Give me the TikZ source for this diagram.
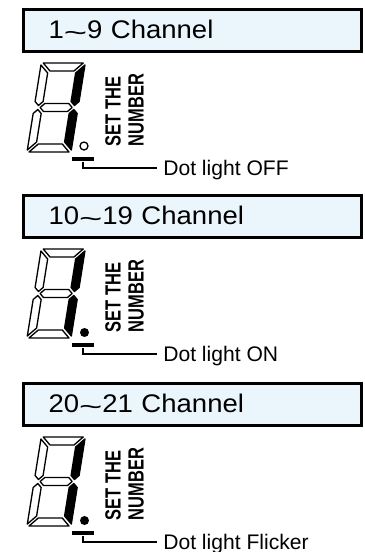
\documentclass[tikz,border=0pt]{standalone}
\usepackage{fontspec}
\setmainfont{Liberation Sans}
\newfontfamily\widefont[FakeStretch=1.08]{Liberation Sans}
\newfontfamily\condfont[FakeStretch=0.75]{Liberation Sans}
\usepackage{tikz}
\usetikzlibrary{positioning}
\definecolor{chanblue}{RGB}{234,245,252}
\newcommand{\wave}{\raisebox{-1.5pt}{\scalebox{1.45}[1]{\textasciitilde}}}
\tikzstyle{titlebox} = [rectangle, draw=black, line width=1.3pt, fill=chanblue, minimum width=6.76cm, minimum height=0.84cm, text width=5.76cm, inner xsep=0.5cm, inner ysep=0pt, align=left, font=\widefont\fontsize{14.5}{17}\selectfont]
\tikzstyle{segoff} = [draw=black, line width=0.75pt, fill=white, line join=round]
\tikzstyle{segon} = [draw=black, line width=0.75pt, fill=black, line join=round]
\tikzstyle{dotoff} = [circle, draw=black, line width=0.75pt, fill=white, minimum size=0.16cm, inner sep=0pt]
\tikzstyle{doton} = [circle, fill=black, minimum size=0.18cm, inner sep=0pt]
\tikzstyle{bar} = [rectangle, fill=black, minimum width=0.44cm, minimum height=0.09cm, inner sep=0pt]
\tikzstyle{settext} = [rotate=90, anchor=north west, inner sep=0pt, align=left, font=\condfont\bfseries\fontsize{12.5}{13}\selectfont]
\tikzstyle{dotlabel} = [anchor=west, inner xsep=0.12cm, inner ysep=0pt, text depth=0pt, font=\fontsize{12}{14}\selectfont]
\tikzstyle{wire} = [line width=1.1pt]
\newcommand{\sevenseg}[2]{%
  \begin{scope}[shift={(#1*0.02cm,-#2*0.02cm)}, x={(0.02cm,0)}, y={(0.0032cm,0.02cm)}]
    \draw[segoff] (2,89) -- (42,89) -- (34,81) -- (10,81) -- cycle;
    \draw[segoff] (0,87) -- (8,79) -- (8,50.5) -- (4,46.5) -- (0,50.5) -- cycle;
    \draw[segon] (44,87) -- (36,79) -- (36,50.5) -- (40,46.5) -- (44,50.5) -- cycle;
    \draw[segoff] (6,44.5) -- (10,48.5) -- (34,48.5) -- (38,44.5) -- (34,40.5) -- (10,40.5) -- cycle;
    \draw[segoff] (0,2) -- (8,10) -- (8,38.5) -- (4,42.5) -- (0,38.5) -- cycle;
    \draw[segon] (44,2) -- (36,10) -- (36,38.5) -- (40,42.5) -- (44,38.5) -- cycle;
    \draw[segoff] (2,0) -- (42,0) -- (34,8) -- (10,8) -- cycle;
  \end{scope}}

\begin{document}
\begin{tikzpicture}[x=0.02cm, y=-0.02cm]
  \useasboundingbox (0,0) rectangle (365,552);

  \node (title1) [titlebox] at (192.5,30.5) {1\wave9 Channel};
  \sevenseg{27}{152}
  \node (dot1) [dotoff] at (84,146) {};
  \node (set1) [settext] at (105,146.5) {SET THE\\NUMBER};
  \node (bar1) [bar] at (83,159) {};
  \node (label1) [dotlabel] at (157,168) {Dot light OFF};
  \draw[wire] (bar1.south) |- (label1.west);

  \node (title2) [titlebox] at (192.5,216.5) {10\wave19 Channel};
  \sevenseg{27}{338}
  \node (dot2) [doton] at (84.5,332.5) {};
  \node (set2) [settext] at (105,332.5) {SET THE\\NUMBER};
  \node (bar2) [bar] at (83,345) {};
  \node (label2) [dotlabel] at (157,354) {Dot light ON};
  \draw[wire] (bar2.south) |- (label2.west);

  \node (title3) [titlebox] at (192.5,404.5) {20\wave21 Channel};
  \sevenseg{27}{526}
  \node (dot3) [doton] at (84.5,520.5) {};
  \node (set3) [settext] at (105,520.5) {SET THE\\NUMBER};
  \node (bar3) [bar] at (83,533) {};
  \node (label3) [dotlabel] at (157,542) {Dot light Flicker};
  \draw[wire] (bar3.south) |- (label3.west);
\end{tikzpicture}
\end{document}
